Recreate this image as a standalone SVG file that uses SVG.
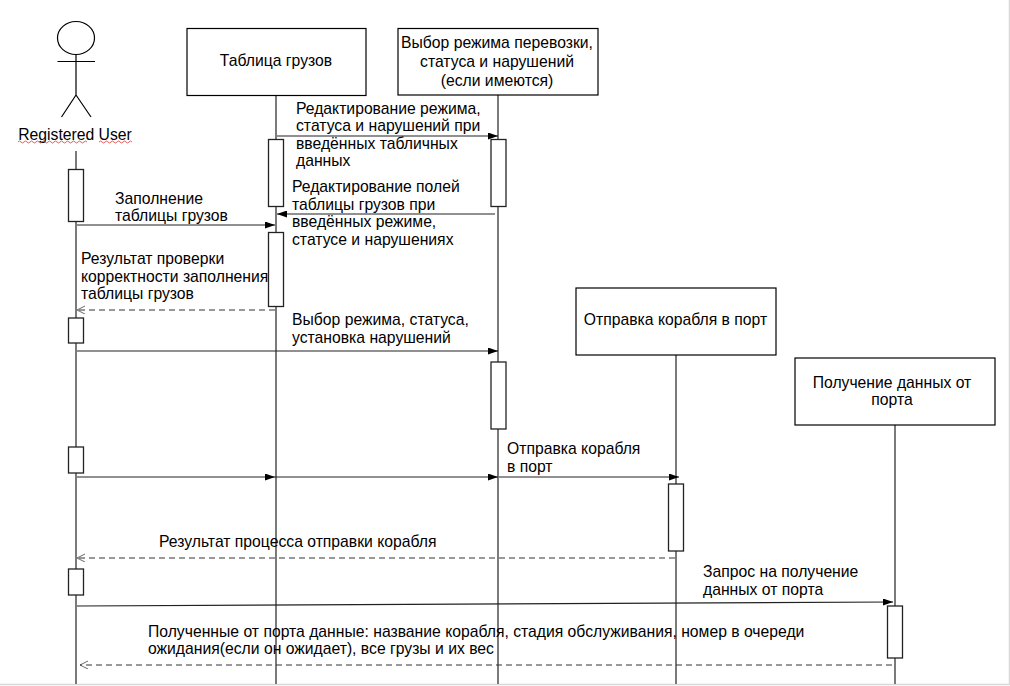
<svg xmlns="http://www.w3.org/2000/svg" width="1010" height="686" viewBox="0 0 1010 686">
<style>
text{font-family:"Liberation Sans",Arial,sans-serif;font-size:15.72px;fill:#000}
.m{text-anchor:middle}
.b{fill:#fff;stroke:#000;stroke-width:1.2}
.a{fill:#fff;stroke:#222;stroke-width:1.3}
.l{fill:none;stroke:#333;stroke-width:1.3}
.s{fill:none;stroke:#222;stroke-width:1.2;marker-end:url(#f)}
.d{fill:none;stroke:#333;stroke-width:1;stroke-dasharray:6 4;marker-end:url(#o)}
</style>
<defs>
<marker id="f" markerUnits="userSpaceOnUse" markerWidth="11" markerHeight="7" refX="10" refY="3.500" orient="auto"><path d="M0 0L10 3.500L0 7Z" fill="#000"/></marker>
<marker id="o" markerUnits="userSpaceOnUse" markerWidth="9" markerHeight="10" refX="8" refY="4" orient="auto"><path d="M0 0L8 4L0 8" fill="none" stroke="#444" stroke-width="0.8"/></marker>
</defs>
<rect width="1010" height="686" fill="#fff"/>
<path d="M0 684.500H1009.500V0" fill="none" stroke="#d8d8d8" stroke-width="1.500"/>
<g id="connectors">
<path class="l" d="M76 151V684"/>
<path class="l" d="M276 95V684"/>
<path class="l" d="M498 95V684"/>
<path class="l" d="M676 355V684"/>
<path class="l" d="M895 425V684"/>
<path class="s" d="M277 136H498"/>
<path class="s" d="M495 214H277"/>
<path class="s" d="M77 225H275"/>
<path class="d" d="M275 310H77"/>
<path class="s" d="M77 351H498"/>
<path class="s" d="M77 477H275"/>
<path class="s" d="M275 477H498"/>
<path class="s" d="M499 477H679"/>
<path class="d" d="M675 558H77"/>
<path class="s" d="M77 606L893 602"/>
<path class="d" d="M892 665H80"/>
</g>
<g id="actor-registered-user">
<ellipse cx="76" cy="38" rx="18.500" ry="16.500" fill="#fff" stroke="#000" stroke-width="1.2"/>
<path d="M76 54V95M57.500 61.500H95M76 95L61.500 117M76 95L91 117" fill="none" stroke="#000" stroke-width="1.2"/>
<text x="75" y="140" class="m">Registered User</text>
<path d="M18 142q1.500 -2 3 0t3 0t3 0t3 0t3 0t3 0t3 0t3 0t3 0t3 0t3 0t3 0t3 0t3 0t3 0t3 0t3 0t3 0t3 0t3 0t3 0t3 0t3 0M99 142q1.500 -2 3 0t3 0t3 0t3 0t3 0t3 0t3 0t3 0t3 0t3 0t3 0" fill="none" stroke="#d33" stroke-width="0.8"/>
</g>
<g id="node-table">
<rect class="b" x="187" y="28.500" width="179" height="67"/>
<text x="276" y="66" class="m">Таблица грузов</text>
</g>
<g id="node-mode">
<rect class="b" x="398" y="28.500" width="200" height="66.500"/>
<text x="497" y="47.500" class="m">Выбор режима перевозки,</text>
<text x="497" y="66.500" class="m">статуса и нарушений</text>
<text x="497" y="85.500" class="m">(если имеются)</text>
</g>
<g id="node-ship">
<rect class="b" x="576" y="288" width="200" height="67"/>
<text x="675.500" y="325" class="m">Отправка корабля в порт</text>
</g>
<g id="node-port">
<rect class="b" x="795" y="358" width="200" height="67"/>
<text x="892" y="388" class="m">Получение данных от</text>
<text x="892" y="405" class="m">порта</text>
</g>
<g id="activations">
<rect class="a" x="68.500" y="169.500" width="15" height="52"/>
<rect class="a" x="268.500" y="139.500" width="15" height="67"/>
<rect class="a" x="491" y="139.500" width="15" height="67"/>
<rect class="a" x="268.500" y="232.500" width="15" height="74"/>
<rect class="a" x="68.500" y="318" width="15" height="25"/>
<rect class="a" x="491" y="362" width="15" height="67"/>
<rect class="a" x="68.500" y="447" width="15" height="26"/>
<rect class="a" x="668.500" y="484" width="15" height="67"/>
<rect class="a" x="68.500" y="569" width="15" height="26"/>
<rect class="a" x="887.500" y="606" width="15" height="52"/>
</g>
<g id="labels">
<text x="296" y="114">Редактирование режима,</text>
<text x="296" y="131">статуса и нарушений при</text>
<text x="296" y="149">введённых табличных</text>
<text x="296" y="166">данных</text>
<text x="292" y="192">Редактирование полей</text>
<text x="292" y="210">таблицы грузов при</text>
<text x="292" y="227">введённых режиме,</text>
<text x="292" y="245">статусе и нарушениях</text>
<text x="115" y="204">Заполнение</text>
<text x="115" y="221">таблицы грузов</text>
<text x="81" y="264">Результат проверки</text>
<text x="81" y="282">корректности заполнения</text>
<text x="81" y="299">таблицы грузов</text>
<text x="292" y="325">Выбор режима, статуса,</text>
<text x="292" y="343">установка нарушений</text>
<text x="507" y="454">Отправка корабля</text>
<text x="507" y="471.500">в порт</text>
<text x="159" y="546.500">Результат процесса отправки корабля</text>
<text x="703" y="577">Запрос на получение</text>
<text x="703" y="595">данных от порта</text>
<text x="148" y="636.500">Полученные от порта данные: название корабля, стадия обслуживания, номер в очереди</text>
<text x="148" y="654">ожидания(если он ожидает), все грузы и их вес</text>
</g>
</svg>
